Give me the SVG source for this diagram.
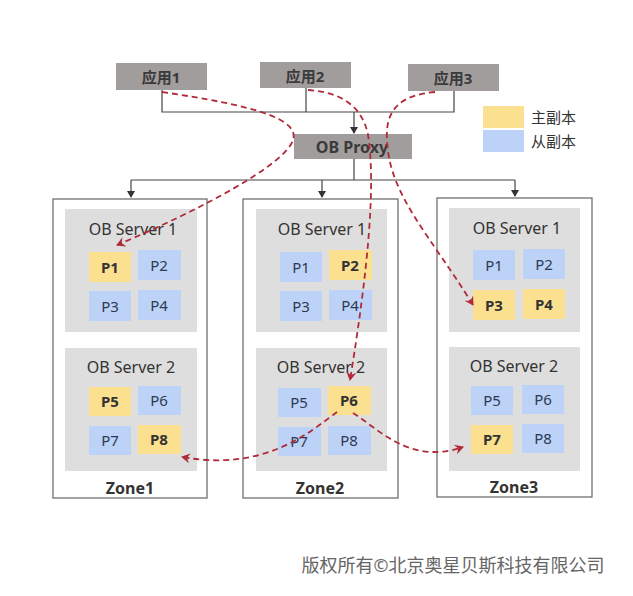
<svg xmlns="http://www.w3.org/2000/svg" width="633" height="596" viewBox="0 0 633 596">
<defs>
<style>
text{font-family:"Noto Sans","Noto Sans CJK SC",sans-serif;fill:#333;text-anchor:middle;dominant-baseline:central}
.app{fill:#a19d9d}
.appt{font-size:15px;font-weight:bold;fill:#3a3a3a}
.zone{fill:#fff;stroke:#707070;stroke-width:1.3}
.srv{fill:#dedede}
.srvt{font-size:16px;fill:#333}
.y{fill:#fbe08f}
.b{fill:#bcd2f6}
.pt{font-size:15px;fill:#2d3a55}
.pty{font-size:15px;font-weight:bold;fill:#333}
.zt{font-size:16px;font-weight:bold;fill:#333}
.ln{stroke:#444;stroke-width:1.2;fill:none}
.dash{stroke:#b02a3a;stroke-width:1.8;fill:none;stroke-dasharray:6 4}
</style>
<marker id="ah" markerWidth="10" markerHeight="10" refX="8" refY="5" orient="auto" markerUnits="userSpaceOnUse">
<path d="M0,0 L9,5 L0,10 L3,5 Z" fill="#b02a3a"/>
</marker>
<marker id="ak" markerWidth="8" markerHeight="8" refX="6" refY="4" orient="auto" markerUnits="userSpaceOnUse">
<path d="M0,0 L7,4 L0,8 Z" fill="#333"/>
</marker>
</defs>
<g id="connectors">
<path class="ln" d="M162,90 V112 H454 V91 M306,88 V112"/>
<path class="ln" d="M354,112 V133" marker-end="url(#ak)"/>
<path class="ln" d="M354,159 V180 M131,180 H515"/>
<path class="ln" d="M131,180 V197" marker-end="url(#ak)"/>
<path class="ln" d="M322,180 V197" marker-end="url(#ak)"/>
<path class="ln" d="M515,180 V196" marker-end="url(#ak)"/>
</g>
<g id="app1"><rect class="app" x="116" y="63" width="91" height="27"/><text class="appt" x="161" y="77">应用1</text></g>
<g id="app2"><rect class="app" x="260" y="62" width="91" height="26"/><text class="appt" x="305" y="76">应用2</text></g>
<g id="app3"><rect class="app" x="408" y="64" width="91" height="27"/><text class="appt" x="453" y="78">应用3</text></g>
<g id="proxy"><rect class="app" x="294" y="134" width="118" height="25"/><text class="appt" x="352" y="147" style="font-size:16px">OB Proxy</text></g>
<g id="legend">
<rect class="y" x="483" y="106" width="41" height="22"/><text x="531" y="117" style="font-size:15px;text-anchor:start;fill:#333">主副本</text>
<rect class="b" x="483" y="130" width="41" height="22"/><text x="531" y="141" style="font-size:15px;text-anchor:start;fill:#333">从副本</text>
</g>
<g id="zone1">
<rect class="zone" x="53" y="199" width="154" height="299"/>
<rect class="srv" x="65" y="209" width="132" height="123"/><text class="srvt" x="133" y="229">OB Server 1</text>
<rect class="y" x="89" y="252" width="42" height="30"/><text class="pty" x="110" y="267">P1</text>
<rect class="b" x="138" y="250" width="43" height="30"/><text class="pt" x="159" y="265">P2</text>
<rect class="b" x="89" y="291" width="42" height="30"/><text class="pt" x="110" y="306">P3</text>
<rect class="b" x="138" y="290" width="43" height="30"/><text class="pt" x="159" y="305">P4</text>
<rect class="srv" x="65" y="348" width="132" height="123"/><text class="srvt" x="131" y="367">OB Server 2</text>
<rect class="y" x="89" y="387" width="42" height="29"/><text class="pty" x="110" y="401">P5</text>
<rect class="b" x="138" y="386" width="43" height="29"/><text class="pt" x="159" y="400">P6</text>
<rect class="b" x="89" y="426" width="42" height="29"/><text class="pt" x="110" y="440">P7</text>
<rect class="y" x="138" y="425" width="43" height="29"/><text class="pty" x="159" y="439">P8</text>
<text class="zt" x="130" y="488">Zone1</text>
</g>
<g id="zone2">
<rect class="zone" x="243" y="199" width="155" height="299"/>
<rect class="srv" x="256" y="209" width="131" height="123"/><text class="srvt" x="322" y="229">OB Server 1</text>
<rect class="b" x="280" y="252" width="42" height="30"/><text class="pt" x="301" y="267">P1</text>
<rect class="y" x="329" y="250" width="43" height="30"/><text class="pty" x="350" y="265">P2</text>
<rect class="b" x="280" y="291" width="42" height="30"/><text class="pt" x="301" y="306">P3</text>
<rect class="b" x="329" y="290" width="43" height="30"/><text class="pt" x="350" y="305">P4</text>
<rect class="srv" x="256" y="348" width="131" height="123"/><text class="srvt" x="321" y="367">OB Server 2</text>
<rect class="b" x="278" y="388" width="43" height="29"/><text class="pt" x="299" y="402">P5</text>
<rect class="y" x="328" y="386" width="43" height="29"/><text class="pty" x="349" y="400">P6</text>
<rect class="b" x="278" y="427" width="43" height="29"/><text class="pt" x="299" y="441">P7</text>
<rect class="b" x="328" y="426" width="43" height="29"/><text class="pt" x="349" y="440">P8</text>
<text class="zt" x="320" y="488">Zone2</text>
</g>
<g id="zone3">
<rect class="zone" x="437" y="198" width="155" height="299"/>
<rect class="srv" x="449" y="208" width="131" height="124"/><text class="srvt" x="517" y="228">OB Server 1</text>
<rect class="b" x="473" y="250" width="42" height="30"/><text class="pt" x="494" y="265">P1</text>
<rect class="b" x="523" y="249" width="42" height="30"/><text class="pt" x="544" y="264">P2</text>
<rect class="y" x="473" y="290" width="42" height="30"/><text class="pty" x="494" y="305">P3</text>
<rect class="y" x="523" y="289" width="42" height="30"/><text class="pty" x="544" y="304">P4</text>
<rect class="srv" x="449" y="347" width="131" height="124"/><text class="srvt" x="514" y="366">OB Server 2</text>
<rect class="b" x="471" y="386" width="42" height="29"/><text class="pt" x="492" y="400">P5</text>
<rect class="b" x="522" y="385" width="42" height="29"/><text class="pt" x="543" y="399">P6</text>
<rect class="y" x="471" y="425" width="42" height="29"/><text class="pty" x="492" y="439">P7</text>
<rect class="b" x="522" y="424" width="42" height="29"/><text class="pt" x="543" y="438">P8</text>
<text class="zt" x="514" y="487">Zone3</text>
</g>
<g id="flows">
<path class="dash" d="M162,92 C250,105 300,118 293,140 C285,165 200,210 117,245" marker-end="url(#ah)"/>
<path class="dash" d="M308,90 C340,92 362,105 368,135 C376,185 368,270 350,380" marker-end="url(#ah)"/>
<path class="dash" d="M435,92 C400,95 385,110 387,140 C389,195 430,235 473,305" marker-end="url(#ah)"/>
<path class="dash" d="M337,412 C310,432 265,472 182,457" marker-end="url(#ah)"/>
<path class="dash" d="M353,413 C380,430 410,465 463,447" marker-end="url(#ah)"/>
</g>
<text x="453" y="565" style="font-size:18px;fill:#666">版权所有©北京奥星贝斯科技有限公司</text>
</svg>
